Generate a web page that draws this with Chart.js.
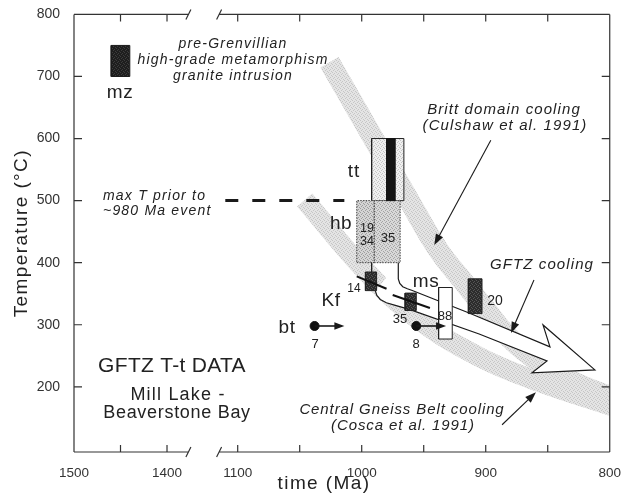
<!DOCTYPE html>
<html>
<head>
<meta charset="utf-8">
<script src="https://cdn.jsdelivr.net/npm/chart.js@4.4.0/dist/chart.umd.min.js"></script>
<style>
  html, body { margin: 0; padding: 0; background: #fff; }
</style>
</head>
<body>
<canvas id="chart" width="626" height="504"></canvas>
<script>
// Time axis is broken: 1500-1400 Ma squeezed on the left, 1100-800 Ma on the right
const xTickTimes = [1500, 1450, 1400, 1100, 1050, 1000, 950, 900, 850, 800];
const xTickLabels = ['1500', '', '1400', '1100', '', '1000', '', '900', '', '800'];
const yTicks = [200, 300, 400, 500, 600, 700, 800];
const axisBreak = [1377, 1115];

// Cooling bands (Ma / deg C)
const brittBandAge = [1026, 992, 962, 938, 917, 901, 881, 857, 829, 797];
const brittBandTemp = [723, 605, 501, 420, 367, 327, 279, 240, 208, 182];
const cgbBandAge = [1046, 996, 954, 905, 857, 797];
const cgbBandTemp = [501, 385, 308, 248, 208, 168];

// max T prior to ~980 Ma event
const maxTAge = [1110, 1014];
const maxTTemp = [500, 500];

// T-t boxes
const boxIds = ['mz', 'tt', 'ttCore', 'hb19_34', 'hb35', 'kf14', 'kf35', 'ms88', 'bx20'];
const boxAgeFrom = [1460, 992, 980, 1004, 990, 997, 965, 938, 914];
const boxAgeTo = [1440, 966, 973, 990, 969, 988, 956, 927, 903];
const boxTempLow = [700, 500, 500, 400, 400, 355, 323, 277, 318];
const boxTempHigh = [750, 600, 600, 500, 500, 385, 351, 360, 374];

// hb -> Kf link, Kf slope lines
const linkAge = [992, 992];
const linkTemp = [400, 385];
const kfLineAge = [[1004, 980], [975, 945]];
const kfLineTemp = [[378, 358], [348, 327]];

// biotite points with "younger than" arrows
const btAge = [1038, 956];
const btTemp = [298, 298];
const btArrowTo = [1014, 932];

// GFTZ cooling arrow outline: upper path, head, lower path (back)
const gftzUpperAge = [970.5, 970.5, 969.3, 966.9, 963.2, 959.2, 913.4, 848.2];
const gftzUpperTemp = [399.5, 373.8, 366.5, 361.2, 358.0, 355.2, 319.0, 264.3];
const gftzHeadAge = [853.8, 812.0, 862.7];
const gftzHeadTemp = [299.7, 227.3, 222.5];
const gftzLowerAge = [850.6, 905.3, 961.6, 972.9, 980.1, 985.0, 987.8, 989.0];
const gftzLowerTemp = [241.8, 285.2, 324.7, 331.1, 335.4, 340.7, 347.2, 354.4];

// label pointers
const pointerFromAge = [895.9, 861.1, 886.8];
const pointerFromTemp = [597.3, 372.1, 138.9];
const pointerToAge = [941.5, 879.6, 859.5];
const pointerToTemp = [428.4, 286.9, 191.1];

// map Ma onto the broken axis
function toU(t) {
  return t <= 1116 ? t : 1157 + (t - 1400) * 0.75;
}
const pts = (ages, temps) => ages.map((t, i) => ({ x: toU(t), y: temps[i] }));

function stipple(base, dot) {
  const c = document.createElement('canvas');
  c.width = c.height = 4;
  const g = c.getContext('2d');
  g.fillStyle = base; g.fillRect(0, 0, 4, 4);
  g.fillStyle = dot;
  [[0, 0], [2, 1], [1, 2], [3, 3]].forEach(p => g.fillRect(p[0], p[1], 1, 1));
  return g.createPattern(c, 'repeat');
}

const bandFill = stipple('#e4e4e4', '#c6c6c6');
const boxStyle = {
  mz: { bg: stipple('#1e1e1e', '#3c3c3c'), line: '#1a1a1a', dash: [] },
  tt: { bg: stipple('#efefef', '#c4c4c4'), line: '#222', dash: [] },
  ttCore: { bg: '#141414', line: '#141414', dash: [] },
  hb19_34: { bg: stipple('#d4d4d4', '#9c9c9c'), line: '#444', dash: [1.5, 1.2] },
  hb35: { bg: stipple('#d8d8d8', '#a4a4a4'), line: '#444', dash: [1.5, 1.2] },
  kf14: { bg: stipple('#2c2c2c', '#565656'), line: '#222', dash: [] },
  kf35: { bg: stipple('#2c2c2c', '#565656'), line: '#222', dash: [] },
  ms88: { bg: '#ffffff', line: '#222', dash: [] },
  bx20: { bg: stipple('#2c2c2c', '#565656'), line: '#222', dash: [] }
};

const lineBase = { showLine: true, pointRadius: 0, pointHoverRadius: 0, fill: false, tension: 0 };

const datasets = [];
datasets.push({ ...lineBase, data: pts(brittBandAge, brittBandTemp), borderColor: bandFill, borderWidth: 21, tension: 0.4, borderCapStyle: 'butt', order: 50 });
datasets.push({ ...lineBase, data: pts(cgbBandAge, cgbBandTemp), borderColor: bandFill, borderWidth: 20, tension: 0.4, borderCapStyle: 'butt', order: 50 });
datasets.push({ ...lineBase, data: pts(maxTAge, maxTTemp), borderColor: '#1a1a1a', borderWidth: 3, borderDash: [13, 14], order: 45 });

const gftzAge = gftzUpperAge.concat(gftzHeadAge, gftzLowerAge);
const gftzTemp = gftzUpperTemp.concat(gftzHeadTemp, gftzLowerTemp);
datasets.push({ ...lineBase, data: pts(gftzAge, gftzTemp), borderWidth: 0, borderColor: 'rgba(0,0,0,0)', backgroundColor: '#fff', fill: 'shape', order: 40 });
datasets.push({ ...lineBase, data: pts(gftzAge, gftzTemp), borderColor: '#1a1a1a', borderWidth: 1.2, order: 39 });

boxIds.forEach((id, i) => {
  const a = [boxAgeFrom[i], boxAgeTo[i], boxAgeTo[i], boxAgeFrom[i], boxAgeFrom[i]];
  const c = [boxTempLow[i], boxTempLow[i], boxTempHigh[i], boxTempHigh[i], boxTempLow[i]];
  const s = boxStyle[id];
  datasets.push({ ...lineBase, data: pts(a, c), fill: 'shape', backgroundColor: s.bg, borderColor: s.line, borderWidth: 1, borderDash: s.dash, order: id === 'tt' ? 31 : 30 });
});

datasets.push({ ...lineBase, data: pts(linkAge, linkTemp), borderColor: '#222', borderWidth: 1, order: 25 });
kfLineAge.forEach((a, i) => {
  datasets.push({ ...lineBase, data: pts(a, kfLineTemp[i]), borderColor: '#111', borderWidth: 2, order: 20 });
});
datasets.push({ data: pts(btAge, btTemp), pointRadius: 4.5, pointBackgroundColor: '#111', pointBorderColor: '#111', pointHoverRadius: 4.5, order: 10 });

const FONT = '"Liberation Sans", Arial, Helvetica, sans-serif';
// annotation texts (pixel layout)
const notes = [
  { s: 'pre-Grenvillian', x: 233, y: 48, f: 'italic 14px', ls: 1.2 },
  { s: 'high-grade metamorphism', x: 233, y: 64, f: 'italic 14px', ls: 1.2 },
  { s: 'granite intrusion', x: 233, y: 80, f: 'italic 14px', ls: 1.2 },
  { s: 'mz', x: 120, y: 98, f: '19px', ls: 0.5 },
  { s: 'max T prior to', x: 103, y: 200, f: 'italic 14px', ls: 1.2, a: 'left' },
  { s: '~980 Ma event', x: 103, y: 215, f: 'italic 14px', ls: 1.2, a: 'left' },
  { s: 'tt', x: 354, y: 177, f: '19px', ls: 1 },
  { s: 'hb', x: 341, y: 229, f: '19px', ls: 0.5 },
  { s: '19', x: 367, y: 232, f: '12.5px', ls: 0 },
  { s: '34', x: 367, y: 245, f: '12.5px', ls: 0 },
  { s: '35', x: 388, y: 242, f: '13px', ls: 0 },
  { s: '14', x: 354, y: 292, f: '12px', ls: 0 },
  { s: 'Kf', x: 331, y: 306, f: '19px', ls: 0.5 },
  { s: '35', x: 400, y: 323, f: '13px', ls: 0 },
  { s: 'bt', x: 287, y: 333, f: '19px', ls: 0.5 },
  { s: '7', x: 315, y: 348, f: '13px', ls: 0 },
  { s: '8', x: 416, y: 348, f: '13px', ls: 0 },
  { s: 'ms', x: 426, y: 287, f: '19px', ls: 0.5 },
  { s: '88', x: 445, y: 320, f: '13px', ls: 0 },
  { s: '20', x: 495, y: 305, f: '14px', ls: 0 },
  { s: 'Britt domain cooling', x: 504, y: 114, f: 'italic 15px', ls: 1.1 },
  { s: '(Culshaw et al. 1991)', x: 505, y: 130, f: 'italic 15px', ls: 1.1 },
  { s: 'GFTZ cooling', x: 542, y: 269, f: 'italic 15px', ls: 1.1 },
  { s: 'Central Gneiss Belt cooling', x: 402, y: 414, f: 'italic 15px', ls: 0.9 },
  { s: '(Cosca et al. 1991)', x: 403, y: 430, f: 'italic 15px', ls: 0.9 },
  { s: 'GFTZ T-t DATA', x: 172, y: 372, f: '21px', ls: 0.3 },
  { s: 'Mill Lake -', x: 178, y: 400, f: '18px', ls: 1.2 },
  { s: 'Beaverstone Bay', x: 177, y: 418, f: '18px', ls: 0.7 }
];

function drawArrow(ctx, x0, y0, x1, y1, len, half) {
  const ang = Math.atan2(y1 - y0, x1 - x0);
  const cx = Math.cos(ang), sy = Math.sin(ang);
  ctx.beginPath();
  ctx.moveTo(x0, y0);
  ctx.lineTo(x1 - cx * len * 0.8, y1 - sy * len * 0.8);
  ctx.stroke();
  ctx.beginPath();
  ctx.moveTo(x1, y1);
  ctx.lineTo(x1 - len * cx + half * sy, y1 - len * sy - half * cx);
  ctx.lineTo(x1 - len * cx - half * sy, y1 - len * sy + half * cx);
  ctx.closePath();
  ctx.fill();
}

const decor = {
  id: 'decor',
  afterDatasetsDraw(chart) {
    const { ctx, chartArea: a, scales: { x, y } } = chart;
    const px = t => x.getPixelForValue(toU(t));
    ctx.save();
    ctx.strokeStyle = '#333';
    ctx.lineWidth = 1.2;
    const b0 = px(axisBreak[0]), b1 = px(axisBreak[1]);
    ctx.beginPath();
    ctx.moveTo(a.left, a.top); ctx.lineTo(a.left, a.bottom);
    ctx.moveTo(a.right, a.top); ctx.lineTo(a.right, a.bottom);
    [a.top, a.bottom].forEach(yy => {
      ctx.moveTo(a.left, yy); ctx.lineTo(b0, yy);
      ctx.moveTo(b1, yy); ctx.lineTo(a.right, yy);
      ctx.moveTo(b0 - 2.5, yy + 5); ctx.lineTo(b0 + 2.5, yy - 5);
      ctx.moveTo(b1 - 2.5, yy + 5); ctx.lineTo(b1 + 2.5, yy - 5);
    });
    xTickTimes.forEach(t => {
      const xx = px(t);
      ctx.moveTo(xx, a.bottom); ctx.lineTo(xx, a.bottom - 7);
      ctx.moveTo(xx, a.top); ctx.lineTo(xx, a.top + 7);
    });
    yTicks.forEach(v => {
      const yy = y.getPixelForValue(v);
      ctx.moveTo(a.left, yy); ctx.lineTo(a.left + 8, yy);
      ctx.moveTo(a.right, yy); ctx.lineTo(a.right - 8, yy);
    });
    ctx.stroke();

    // pointers to the cooling labels
    ctx.strokeStyle = '#1a1a1a';
    ctx.fillStyle = '#1a1a1a';
    ctx.lineWidth = 1.1;
    pointerFromAge.forEach((t, i) => {
      drawArrow(ctx, px(t), y.getPixelForValue(pointerFromTemp[i]),
        px(pointerToAge[i]), y.getPixelForValue(pointerToTemp[i]), 11, 4);
    });
    // bt arrows
    ctx.lineWidth = 1.6;
    btAge.forEach((t, i) => {
      const yy = y.getPixelForValue(btTemp[i]);
      drawArrow(ctx, px(t), yy, px(btArrowTo[i]), yy, 10, 3.8);
    });

    // texts
    ctx.fillStyle = '#222';
    ctx.textBaseline = 'alphabetic';
    notes.forEach(n => {
      ctx.font = n.f + ' ' + FONT;
      ctx.letterSpacing = (n.ls || 0) + 'px';
      ctx.textAlign = n.a || 'center';
      ctx.fillText(n.s, n.x, n.y);
    });

    // axis titles
    ctx.font = '19px ' + FONT;
    ctx.letterSpacing = '1.4px';
    ctx.textAlign = 'center';
    ctx.fillText('time (Ma)', 324, 489);
    ctx.save();
    ctx.translate(27, (a.top + a.bottom) / 2);
    ctx.rotate(-Math.PI / 2);
    ctx.fillText('Temperature (°C)', 0, 0);
    ctx.restore();
    ctx.restore();
  }
};

Chart.defaults.font.family = FONT;

new Chart(document.getElementById('chart'), {
  type: 'scatter',
  data: { datasets },
  options: {
    responsive: false,
    devicePixelRatio: 1,
    animation: false,
    events: [],
    layout: { autoPadding: false, padding: { left: 0, right: 15, top: 14, bottom: 0 } },
    plugins: { legend: { display: false }, tooltip: { enabled: false } },
    scales: {
      x: {
        type: 'linear', min: 800, max: 1232, reverse: true,
        grid: { display: false }, border: { display: false },
        ticks: { autoSkip: false, maxRotation: 0, padding: 5, color: '#333', font: { size: 13.5 }, callback: (v, i) => xTickLabels[i] },
        afterBuildTicks: s => { s.ticks = xTickTimes.map(t => ({ value: toU(t) })); },
        afterFit: s => { s.height = 52; }
      },
      y: {
        type: 'linear', min: 95, max: 800,
        grid: { display: false }, border: { display: false },
        ticks: { padding: 6, color: '#333', font: { size: 14 } },
        afterBuildTicks: s => { s.ticks = yTicks.map(v => ({ value: v })); },
        afterFit: s => { s.width = 74; }
      }
    }
  },
  plugins: [decor]
});
</script>
</body>
</html>
